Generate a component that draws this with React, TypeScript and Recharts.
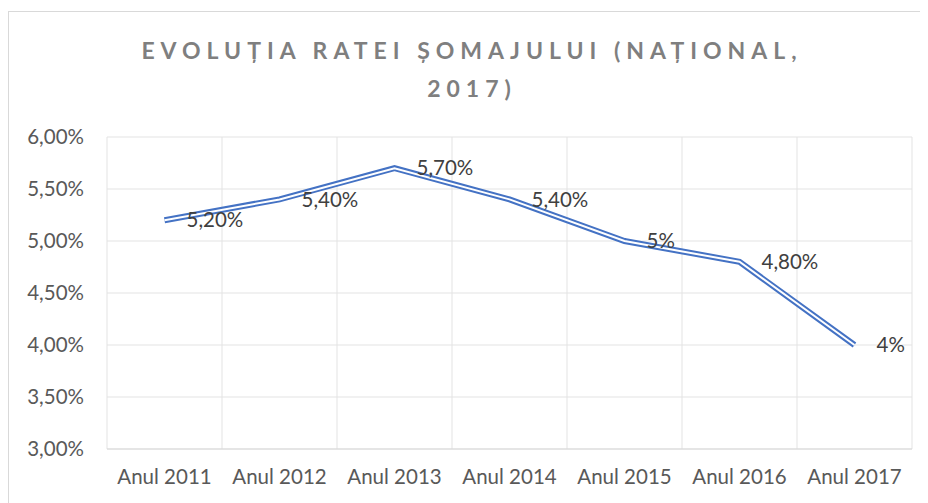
import React from "react";
import {
  LineChart,
  Line,
  XAxis,
  YAxis,
  CartesianGrid,
  LabelList,
} from "recharts";

const years = [
  "Anul 2011",
  "Anul 2012",
  "Anul 2013",
  "Anul 2014",
  "Anul 2015",
  "Anul 2016",
  "Anul 2017",
];
const rates = [5.2, 5.4, 5.7, 5.4, 5.0, 4.8, 4.0];
const rateLabels = ["5,20%", "5,40%", "5,70%", "5,40%", "5%", "4,80%", "4%"];
const yTicks = [3, 3.5, 4, 4.5, 5, 5.5, 6];

const data = years.map((year, i) => ({
  year,
  rate: rates[i],
  label: rateLabels[i],
}));

const FONT = "Lato, 'Open Sans', sans-serif";

const fmtPct = (v: number) => v.toFixed(2).replace(".", ",") + "%";

// grid lines sit between categories, like Excel
const bandLines = ({ offset }: any) => {
  const n = years.length;
  const out: number[] = [];
  for (let i = 0; i <= n; i++) out.push(offset.left + (i * offset.width) / n);
  return out;
};

export default function App() {
  return (
    <div style={{ position: "relative", width: 920, height: 495, overflow: "hidden", fontFamily: FONT }}>
      <div
        style={{
          position: "absolute",
          left: 0,
          top: 3,
          width: 960,
          height: 600,
          borderTop: "1px solid #d9d9d9",
          borderLeft: "1px solid #d9d9d9",
          boxSizing: "border-box",
        }}
      />
      <div
        style={{
          position: "absolute",
          left: 0,
          top: 23,
          width: 928,
          textAlign: "center",
          fontSize: 23,
          fontWeight: 700,
          letterSpacing: 6,
          lineHeight: "38px",
          color: "#7f7f7f",
        }}
      >
        EVOLUȚIA RATEI ȘOMAJULUI (NAȚIONAL,
        <br />
        2017)
      </div>
      <div style={{ position: "absolute", left: 0, top: 0 }}>
        <LineChart
          width={920}
          height={495}
          data={data}
          margin={{ top: 129, right: 16, bottom: 14, left: 0 }}
        >
          <CartesianGrid
            stroke="#e3e3e3"
            vertical
            horizontal
            verticalCoordinatesGenerator={bandLines}
          />
          <XAxis
            dataKey="year"
            scale="band"
            height={40}
            tickLine={false}
            tickSize={0}
            tickMargin={20}
            axisLine={{ stroke: "#d9d9d9" }}
            tick={{ fill: "#595959", fontSize: 20.5, fontFamily: FONT }}
            interval={0}
          />
          <YAxis
            width={99}
            domain={[3, 6]}
            ticks={yTicks}
            tickFormatter={fmtPct}
            axisLine={false}
            tickLine={false}
            tickSize={0}
            tickMargin={23}
            tick={{ fill: "#595959", fontSize: 20.5, fontFamily: FONT }}
          />
          <Line
            type="linear"
            dataKey="rate"
            stroke="#4472c4"
            strokeWidth={6}
            dot={false}
            isAnimationActive={false}
          />
          <Line
            type="linear"
            dataKey="rate"
            stroke="#ffffff"
            strokeWidth={2}
            dot={false}
            isAnimationActive={false}
          >
            <LabelList
              dataKey="label"
              position="right"
              offset={22}
              fill="#404040"
              fontSize={20.5}
              fontFamily={FONT}
            />
          </Line>
        </LineChart>
      </div>
    </div>
  );
}
